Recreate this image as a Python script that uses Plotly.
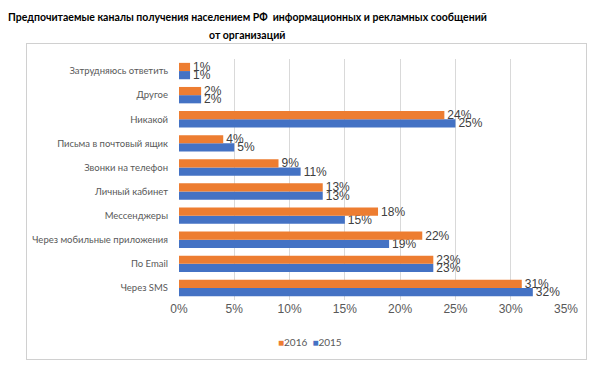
import plotly.graph_objects as go

categories = ["Через SMS", "По Email", "Через мобильные приложения", "Мессенджеры",
              "Личный кабинет", "Звонки на телефон", "Письма в почтовый ящик",
              "Никакой", "Другое", "Затрудняюсь ответить"]
values_2016 = [31, 23, 22, 18, 13, 9, 4, 24, 2, 1]
values_2015 = [32, 23, 19, 15, 13, 11, 5, 25, 2, 1]
x_ticks = [0, 5, 10, 15, 20, 25, 30, 35]
x_tick_labels = ["0%", "5%", "10%", "15%", "20%", "25%", "30%", "35%"]
series_names = ["2016", "2015"]
series_colors = ["#ED7D31", "#4472C4"]
title_line1 = "Предпочитаемые каналы получения населением РФ  информационных и рекламных сообщений"
title_line2 = "от организаций"

L, R, T, B = 179, 34, 59, 69
W, H = 600, 369
pw, ph = W - L - R, H - T - B

def px_x(x):
    return (x - L) / pw

def px_y(y):
    return (H - B - y) / ph

label_font = dict(family="Liberation Sans, Arial", size=12, color="#404040")

fig = go.Figure()
fig.add_trace(go.Bar(
    y=categories, x=values_2015, orientation="h", name=series_names[1],
    marker=dict(color=series_colors[1], line=dict(width=0)),
    text=[f"{v}%" for v in values_2015], textposition="outside",
    textfont=label_font, cliponaxis=False, constraintext="none",
))
fig.add_trace(go.Bar(
    y=categories, x=values_2016, orientation="h", name=series_names[0],
    marker=dict(color=series_colors[0], line=dict(width=0)),
    text=[f"{v}%" for v in values_2016], textposition="outside",
    textfont=label_font, cliponaxis=False, constraintext="none",
))

legend_text = "  ".join(
    f"<span style='color:{c}'>■</span>{n}" for n, c in zip(series_names, series_colors)
)

fig.update_layout(
    width=W, height=H,
    margin=dict(l=L, r=R, t=T, b=B, autoexpand=False),
    paper_bgcolor="white", plot_bgcolor="rgba(0,0,0,0)",
    barmode="group", bargap=0.32, bargroupgap=0,
    font=dict(family="Lato", size=10, color="#595959"),
    xaxis=dict(range=[0, 35], tickvals=x_ticks, ticktext=x_tick_labels,
               showgrid=True, gridcolor="#d9d9d9", gridwidth=1,
               zeroline=False, showline=False, ticks="",
               tickfont=dict(family="Liberation Sans, Arial", size=12, color="#595959")),
    yaxis=dict(showgrid=False, zeroline=False, showline=False, ticks="",
               ticklabelstandoff=10,
               tickfont=dict(family="Lato", size=9.5, color="#595959")),
    showlegend=False,
    annotations=[
        dict(text=" ", xref="paper", yref="paper",
             x=px_x(306.5), y=px_y(201.5), xanchor="center", yanchor="middle",
             width=559, height=315, borderpad=0, borderwidth=1,
             bordercolor="#d0d0d0", showarrow=False),
        dict(text="<b>" + title_line1 + "</b>", xref="paper", yref="paper",
             x=px_x(247), y=px_y(17), xanchor="center", yanchor="middle",
             showarrow=False, font=dict(family="Lato", size=10.5, color="#000000")),
        dict(text="<b>" + title_line2 + "</b>", xref="paper", yref="paper",
             x=px_x(247), y=px_y(35), xanchor="center", yanchor="middle",
             showarrow=False, font=dict(family="Lato", size=10.5, color="#000000")),
        dict(text=legend_text, xref="paper", yref="paper",
             x=px_x(310), y=px_y(342), xanchor="center", yanchor="middle",
             showarrow=False, font=dict(family="Lato", size=10, color="#595959")),
    ],
)

fig.write_html("out.html", post_script="document.body.style.margin='0';",
               config={"displayModeBar": False})
